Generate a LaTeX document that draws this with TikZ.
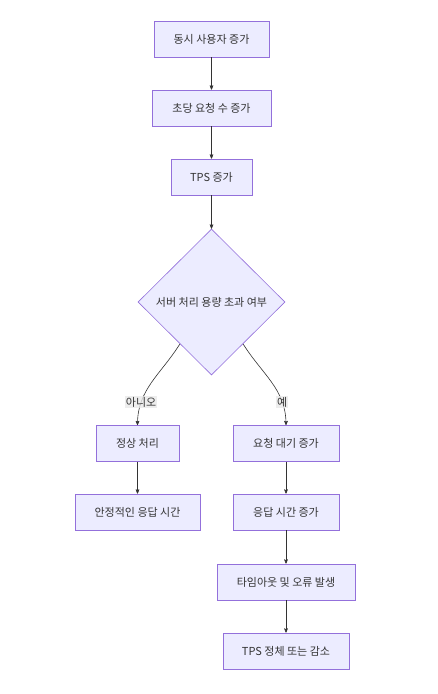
\documentclass[tikz,border=0pt]{standalone}
\usepackage{fontspec}
\setmainfont{Noto Sans CJK KR}
\usetikzlibrary{arrows}
\usetikzlibrary{shapes.geometric}
\definecolor{boxfill}{HTML}{ECECFF}
\definecolor{boxline}{HTML}{9370DB}
\definecolor{inkgray}{HTML}{333333}
\definecolor{lblfill}{HTML}{E8E8E8}
\begin{document}
\begin{tikzpicture}[x=1pt,y=1pt,->,>=stealth',
    box node/.style={rectangle,draw=boxline,fill=boxfill,line width=0.8pt,text=inkgray,font=\fontsize{11}{13}\selectfont,minimum height=36pt,inner sep=0pt},
    decision node/.style={diamond,aspect=1,draw=boxline,fill=boxfill,line width=0.6pt,text=inkgray,font=\fontsize{11}{13}\selectfont,minimum width=147pt,minimum height=146pt,inner sep=0pt},
    label node/.style={fill=lblfill,fill opacity=0.8,text opacity=1,text=inkgray,font=\fontsize{11}{13}\selectfont,inner sep=1pt,anchor=center}]
   \useasboundingbox (0,0) rectangle (438,-694);
   \begin{scope}
      \node[box node,minimum width=115pt] (users) at (211.5,-39) {동시 사용자 증가};
      \node[box node,minimum width=119pt] (reqs) at (211.5,-108) {초당 요청 수 증가};
      \node[box node,minimum width=81pt] (tps) at (211.5,-177) {TPS 증가};
      \node[decision node] (over) at (211.5,-302) {서버 처리 용량 초과 여부};
      % no branch
      \node[box node,minimum width=83pt] (ok) at (137.5,-443.5) {정상 처리};
      \node[box node,minimum width=125pt] (stable) at (137.5,-512) {안정적인 응답 시간};
      % yes branch
      \node[box node,minimum width=106pt] (wait) at (286,-443.5) {요청 대기 증가};
      \node[box node,minimum width=106pt] (slow) at (286,-512) {응답 시간 증가};
      \node[box node,minimum width=138pt] (fail) at (286,-582) {타임아웃 및 오류 발생};
      \node[box node,minimum width=126pt] (drop) at (286,-651) {TPS 정체 또는 감소};
       \path[->,line width=0.6pt,color=inkgray] (users) edge (reqs);
       \path[->,line width=0.6pt,color=inkgray] (reqs) edge (tps);
       \path[->,line width=0.6pt,color=inkgray] (tps) edge (over);
       \path[->,line width=0.6pt,color=inkgray] (over.-127) edge[out=-122,in=90] node[label node,pos=0.76] {아니오} (ok.north);
       \path[->,line width=0.6pt,color=inkgray] (over.-53) edge[out=-58,in=90] node[label node,pos=0.76] {예} (wait.north);
       \path[->,line width=0.6pt,color=inkgray] (ok) edge (stable);
       \path[->,line width=0.6pt,color=inkgray] (wait) edge (slow);
       \path[->,line width=0.6pt,color=inkgray] (slow) edge (fail);
       \path[->,line width=0.6pt,color=inkgray] (fail) edge (drop);
   \end{scope}
\end{tikzpicture}
\end{document}
